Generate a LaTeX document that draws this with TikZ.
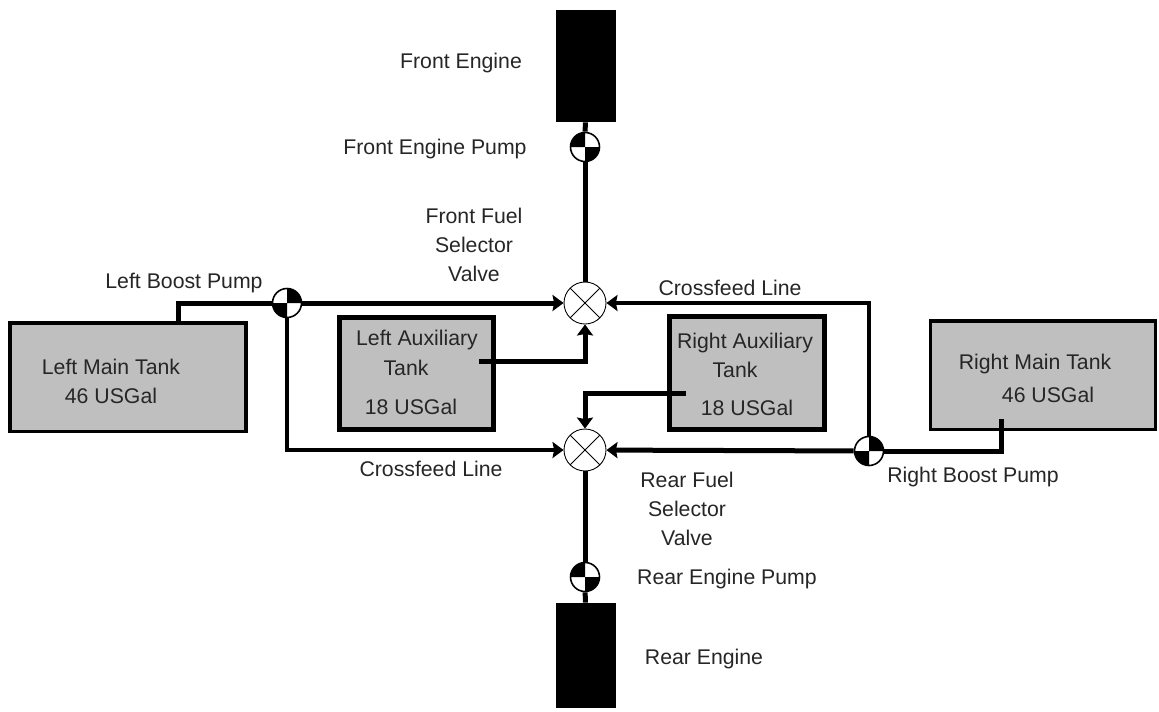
\documentclass[tikz,border=0pt]{standalone}
\usepackage{fontspec}
\setmainfont{Liberation Sans}
\usetikzlibrary{arrows.meta}
\tikzset{
  fuelfig/.style={x=0.02cm,y=-0.02cm,
    every node/.style={font=\fontsize{12.1}{14}\selectfont,text=black!85,align=center}},
  engine/.style={fill=black,draw=none,minimum width=1.2cm,inner sep=0pt},
  maintank/.style={draw,fill=black!25,line width=0.07cm,inner sep=0pt},
  auxtank/.style={draw,fill=black!25,line width=0.1cm,inner sep=0pt},
  valve/.style={circle,draw,fill=white,line width=0.5pt,minimum size=0.84cm,inner sep=0pt,
    path picture={\draw[line width=0.5pt]
      (path picture bounding box.north west) -- (path picture bounding box.south east)
      (path picture bounding box.north east) -- (path picture bounding box.south west);}},
  pumpa/.style={circle,draw,fill=white,line width=0.9pt,minimum size=0.58cm,inner sep=0pt,
    path picture={\fill[black] (path picture bounding box.center) rectangle (path picture bounding box.north west)
      (path picture bounding box.center) rectangle (path picture bounding box.south east);}},
  pumpb/.style={circle,draw,fill=white,line width=0.9pt,minimum size=0.58cm,inner sep=0pt,
    path picture={\fill[black] (path picture bounding box.center) rectangle (path picture bounding box.north east)
      (path picture bounding box.center) rectangle (path picture bounding box.south west);}},
  pipe/.style={line width=0.1cm},
  thinpipe/.style={line width=0.065cm},
  feed/.style={-{Stealth[length=0.22cm,width=0.32cm,inset=0.03cm]}},
}
\begin{document}
\begin{tikzpicture}[fuelfig]
    \useasboundingbox (0,0) rectangle (1159,711);
    \node[engine,minimum height=2.24cm] (fengine) at (586,66) {};
    \node[engine,minimum height=2.1cm] (rengine) at (586,655.5) {};
    \node (fenginetxt) at (461,63) {Front Engine};
    \node (renginetxt) at (704,659) {Rear Engine};

    \node[maintank,minimum width=4.73cm,minimum height=2.17cm] (lmain) at (128,377) {};
    \node[maintank,minimum width=4.5cm,minimum height=2.17cm] (rmain) at (1043,375) {};
    \node[auxtank,minimum width=3.08cm,minimum height=2.24cm] (laux) at (416.5,373.5) {};
    \node[auxtank,minimum width=3.1cm,minimum height=2.26cm] (raux) at (747,373) {};

    \node (lmaintxt) at (111,381) {Left Main Tank\\[2.5pt]46 USGal};
    \node (rmaintxt) at (1035,364) {Right Main Tank};
    \node (rmaintxtb) at (1048,395) {46 USGal};
    \node (lauxtxt) at (417,340) {Left Auxiliary};
    \node (lauxtxtb) at (406,368) {Tank};
    \node (lauxtxtc) at (411,407) {18 USGal};
    \node (rauxtxt) at (745,343) {Right Auxiliary};
    \node (rauxtxtb) at (735,370) {Tank};
    \node (rauxtxtc) at (747,408) {18 USGal};

    \node[valve] (fvalve) at (585,303) {};
    \node[valve] (rvalve) at (585,450) {};
    \node[pumpa] (fpump) at (585,147) {};
    \node[pumpa] (rpump) at (585,577) {};
    \node[pumpb] (lpump) at (287,303) {};
    \node[pumpb] (rbpump) at (869,451) {};

    \coordinate (lmainout) at (178,322);
    \coordinate (rmainout) at (1001,419);
    \coordinate (lauxout) at (479,361);
    \coordinate (rauxout) at (686,393);

    \draw[pipe] (fengine) -- (fpump);
    \draw[pipe] (fpump) -- (fvalve);
    \draw[pipe] (rvalve) -- (rpump);
    \draw[pipe] (rpump) -- (rengine);
    \draw[pipe] (lmainout) |- (lpump);
    \draw[pipe] (rmainout) |- (rbpump);
    \draw[pipe,feed] (lpump) -- (fvalve);
    \draw[pipe,feed] (rbpump) -- (rvalve);
    \draw[thinpipe,feed] (lpump) |- (rvalve);
    \draw[thinpipe,feed] (rbpump) |- (fvalve);
    \draw[pipe,feed] (lauxout) -| (fvalve);
    \draw[pipe,feed] (rauxout) -| (rvalve);

    \node (fpumptxt) at (435,149) {Front Engine Pump};
    \node (fselect) at (474,245) {Front Fuel\\[2.5pt]Selector\\[2.5pt]Valve};
    \node (lpumptxt) at (184,283) {Left Boost Pump};
    \node (lcross) at (431,469) {Crossfeed Line};
    \node (rcross) at (730,288) {Crossfeed Line};
    \node (rselect) at (687,509) {Rear Fuel\\[2.5pt]Selector\\[2.5pt]Valve};
    \node (rpumptxt) at (973,477) {Right Boost Pump};
    \node (rpumplabel) at (727,579) {Rear Engine Pump};
\end{tikzpicture}
\end{document}
